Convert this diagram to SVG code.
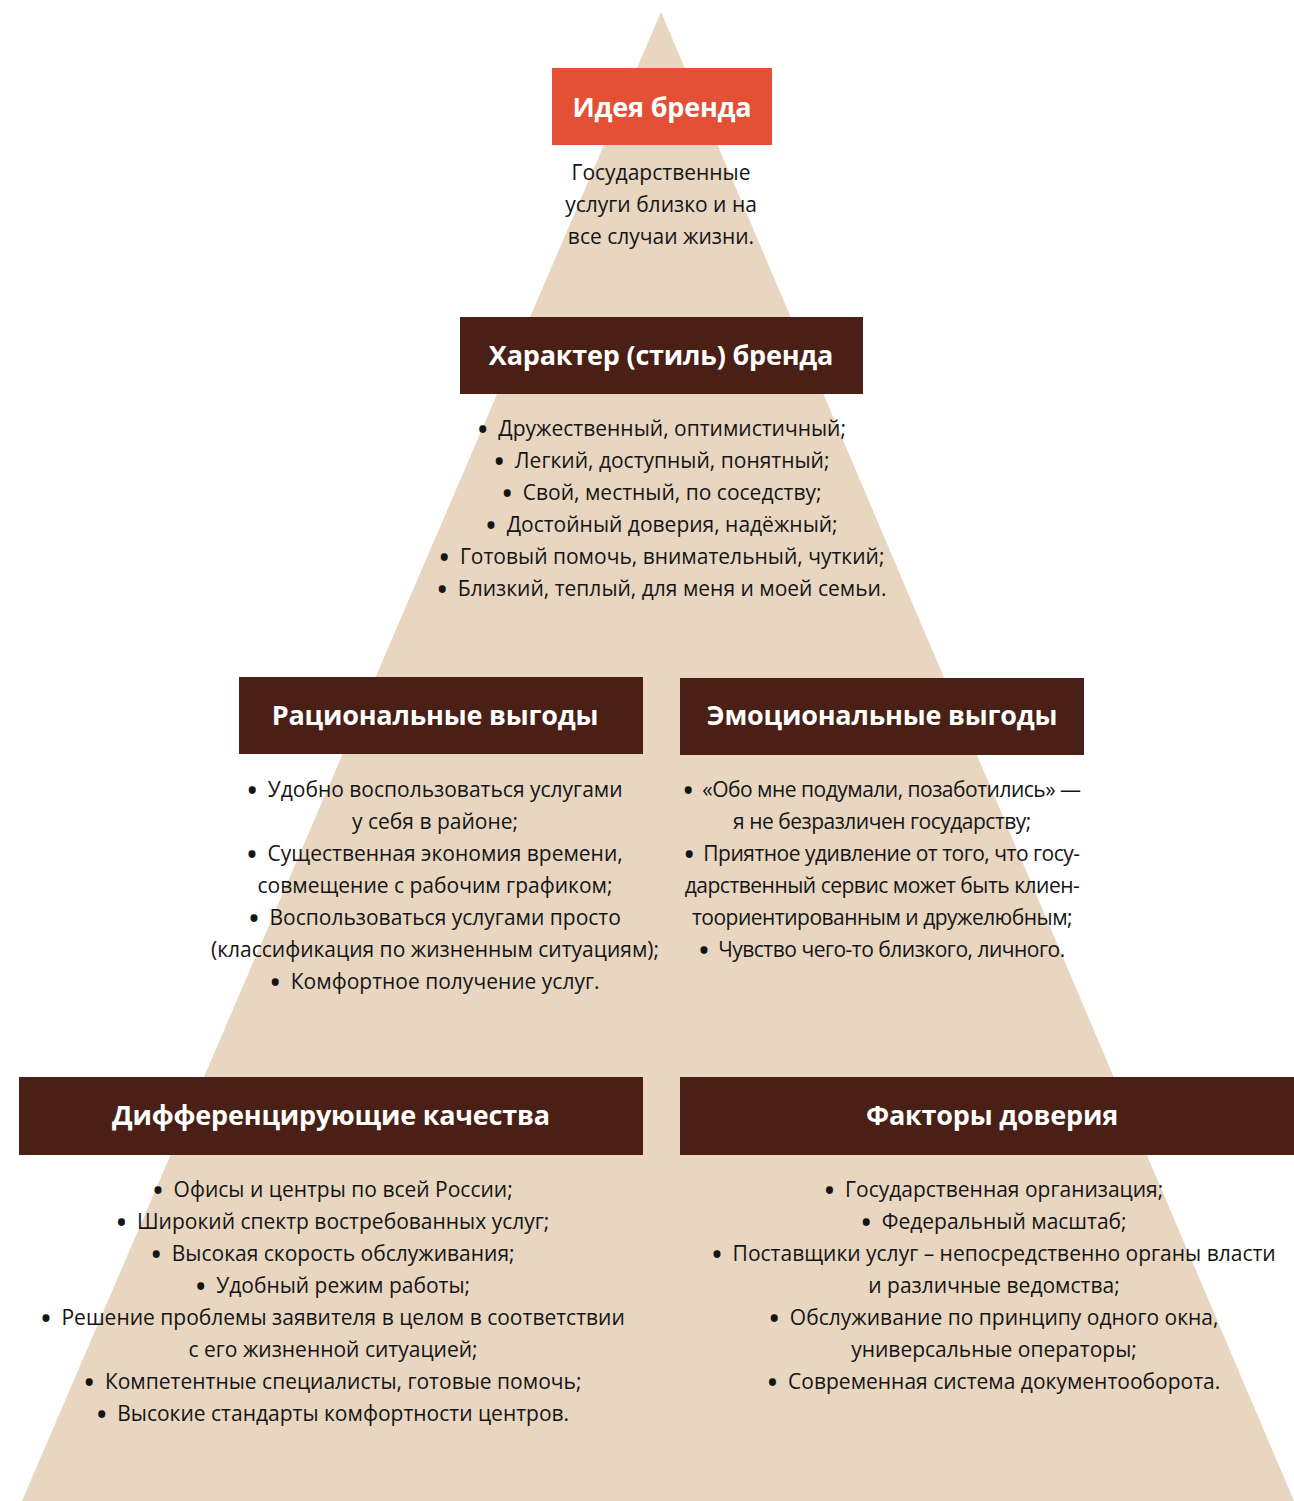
<svg xmlns="http://www.w3.org/2000/svg" width="1294" height="1501" viewBox="0 0 1294 1501">
<style>
.bg{fill:#ffffff}
.pyr{fill:#E8D6C1}
.red{fill:#E45036}
.dark{fill:#4A1F16}
.h{font-family:"Open Sans","Noto Sans",sans-serif;font-weight:700;font-size:27px;letter-spacing:-0.2px;fill:#ffffff;text-anchor:middle}
.t{font-family:"Open Sans","Noto Sans",sans-serif;font-size:21px;fill:#151515;text-anchor:middle}
.e{letter-spacing:-0.5px}
.b{font-size:25px;font-weight:700;baseline-shift:-2px}
</style>
<rect class="bg" x="0" y="0" width="1294" height="1501"/>
<polygon class="pyr" points="661,12 22,1501 1294,1501"/>
<g id="connectors"></g>
<g id="idea">
<rect class="red" x="552" y="68" width="220" height="77"/>
<text class="h" x="662" y="117">Идея бренда</text>
<text class="t" x="661" y="180">Государственные</text>
<text class="t" x="661" y="212">услуги близко и на</text>
<text class="t" x="661" y="244">все случаи жизни.</text>
</g>
<g id="character">
<rect class="dark" x="460" y="317" width="403" height="77"/>
<text class="h" x="661" y="365">Характер (стиль) бренда</text>
<text class="t" x="662" y="436"><tspan class="b">•</tspan>&#160;&#160;Дружественный, оптимистичный;</text>
<text class="t" x="662" y="468"><tspan class="b">•</tspan>&#160;&#160;Легкий, доступный, понятный;</text>
<text class="t" x="662" y="500"><tspan class="b">•</tspan>&#160;&#160;Свой, местный, по соседству;</text>
<text class="t" x="662" y="532"><tspan class="b">•</tspan>&#160;&#160;Достойный доверия, надёжный;</text>
<text class="t" x="662" y="564"><tspan class="b">•</tspan>&#160;&#160;Готовый помочь, внимательный, чуткий;</text>
<text class="t" x="662" y="596"><tspan class="b">•</tspan>&#160;&#160;Близкий, теплый, для меня и моей семьи.</text>
</g>
<g id="rational">
<rect class="dark" x="239" y="677" width="404" height="77"/>
<text class="h" x="435" y="725">Рациональные выгоды</text>
<text class="t" x="435" y="797"><tspan class="b">•</tspan>&#160;&#160;Удобно воспользоваться услугами</text>
<text class="t" x="435" y="829">у себя в районе;</text>
<text class="t" x="435" y="861"><tspan class="b">•</tspan>&#160;&#160;Существенная экономия времени,</text>
<text class="t" x="435" y="893">совмещение с рабочим графиком;</text>
<text class="t" x="435" y="925"><tspan class="b">•</tspan>&#160;&#160;Воспользоваться услугами просто</text>
<text class="t" x="435" y="957">(классификация по жизненным ситуациям);</text>
<text class="t" x="435" y="989"><tspan class="b">•</tspan>&#160;&#160;Комфортное получение услуг.</text>
</g>
<g id="emotional">
<rect class="dark" x="680" y="678" width="404" height="77"/>
<text class="h" x="882" y="725">Эмоциональные выгоды</text>
<text class="t e" x="882" y="797"><tspan class="b">•</tspan>&#160;&#160;«Обо мне подумали, позаботились» —</text>
<text class="t e" x="882" y="829">я не безразличен государству;</text>
<text class="t e" x="882" y="861"><tspan class="b">•</tspan>&#160;&#160;Приятное удивление от того, что госу-</text>
<text class="t e" x="882" y="893">дарственный сервис может быть клиен-</text>
<text class="t e" x="882" y="925">тоориентированным и дружелюбным;</text>
<text class="t e" x="882" y="957"><tspan class="b">•</tspan>&#160;&#160;Чувство чего-то близкого, личного.</text>
</g>
<g id="differentiating">
<rect class="dark" x="19" y="1077" width="624" height="78"/>
<text class="h" x="331" y="1125">Дифференцирующие качества</text>
<text class="t" x="333" y="1197"><tspan class="b">•</tspan>&#160;&#160;Офисы и центры по всей России;</text>
<text class="t" x="333" y="1229"><tspan class="b">•</tspan>&#160;&#160;Широкий спектр востребованных услуг;</text>
<text class="t" x="333" y="1261"><tspan class="b">•</tspan>&#160;&#160;Высокая скорость обслуживания;</text>
<text class="t" x="333" y="1293"><tspan class="b">•</tspan>&#160;&#160;Удобный режим работы;</text>
<text class="t" x="333" y="1325"><tspan class="b">•</tspan>&#160;&#160;Решение проблемы заявителя в целом в соответствии</text>
<text class="t" x="333" y="1357">с его жизненной ситуацией;</text>
<text class="t" x="333" y="1389"><tspan class="b">•</tspan>&#160;&#160;Компетентные специалисты, готовые помочь;</text>
<text class="t" x="333" y="1421"><tspan class="b">•</tspan>&#160;&#160;Высокие стандарты комфортности центров.</text>
</g>
<g id="trust">
<rect class="dark" x="680" y="1077" width="614" height="78"/>
<text class="h" x="992" y="1125">Факторы доверия</text>
<text class="t" x="994" y="1197"><tspan class="b">•</tspan>&#160;&#160;Государственная организация;</text>
<text class="t" x="994" y="1229"><tspan class="b">•</tspan>&#160;&#160;Федеральный масштаб;</text>
<text class="t" x="994" y="1261"><tspan class="b">•</tspan>&#160;&#160;Поставщики услуг – непосредственно органы власти</text>
<text class="t" x="994" y="1293">и различные ведомства;</text>
<text class="t" x="994" y="1325"><tspan class="b">•</tspan>&#160;&#160;Обслуживание по принципу одного окна,</text>
<text class="t" x="994" y="1357">универсальные операторы;</text>
<text class="t" x="994" y="1389"><tspan class="b">•</tspan>&#160;&#160;Современная система документооборота.</text>
</g>
</svg>
